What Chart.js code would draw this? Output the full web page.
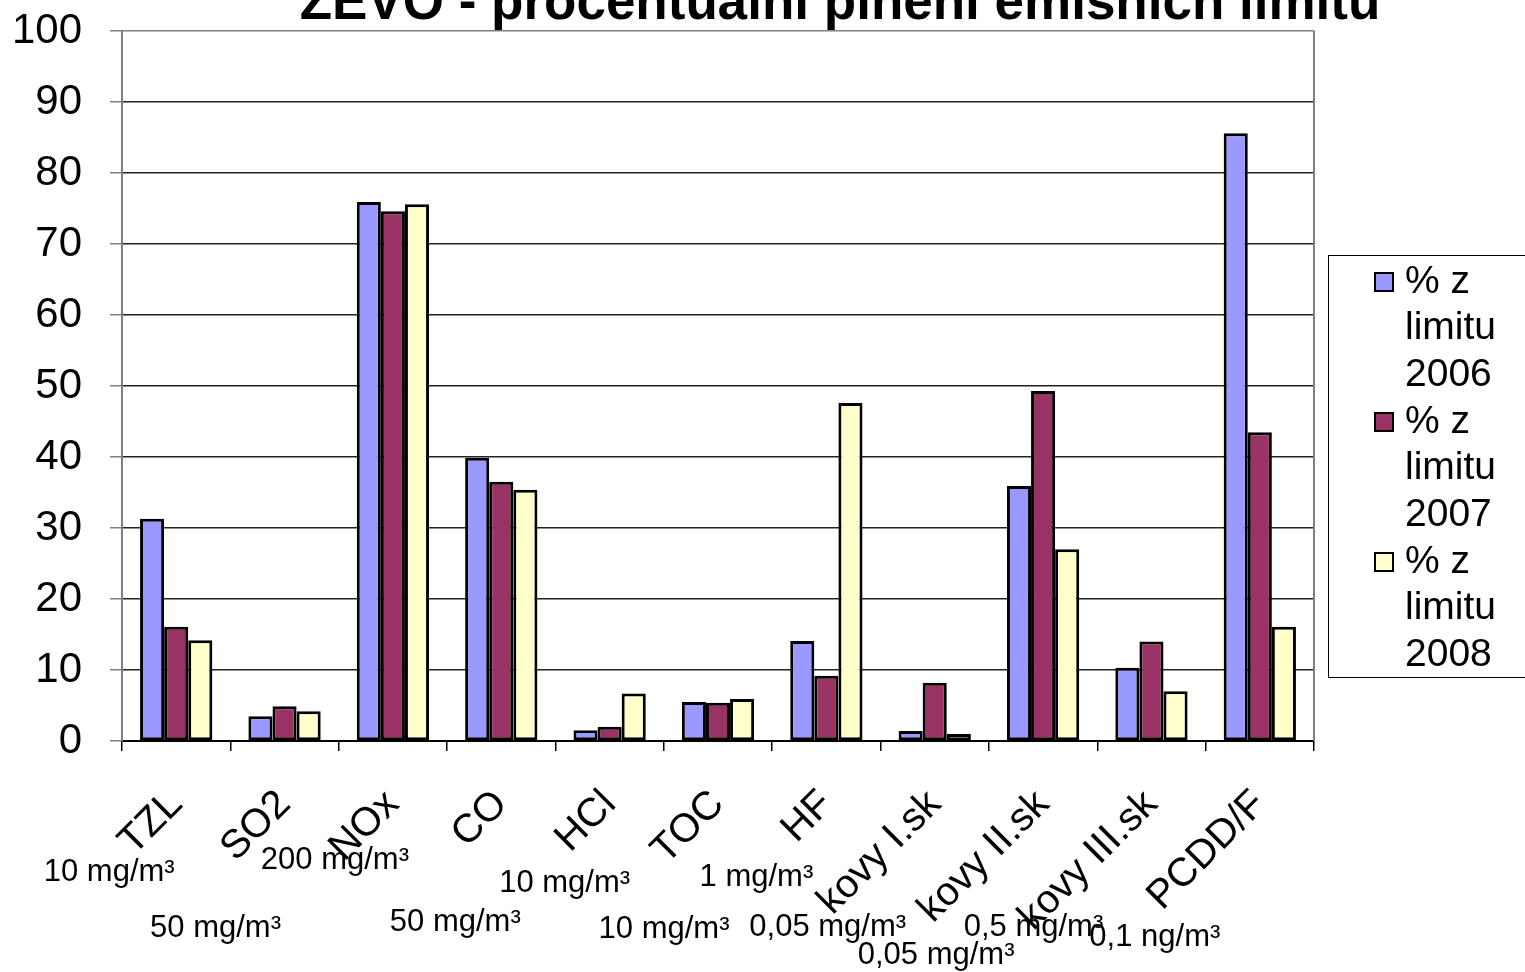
<!DOCTYPE html>
<html>
<head>
<meta charset="utf-8">
<script src="https://cdn.jsdelivr.net/npm/chart.js@4"></script>
<style>
  body { margin: 0; background: #fff; }
  canvas { display: block; }
</style>
</head>
<body>
<canvas id="myChart" width="1525" height="972"></canvas>
<script>
const title = 'ZEVO - procentuální plnění emisních limitů';

const categories = ['TZL', 'SO2', 'NOx', 'CO', 'HCl', 'TOC', 'HF', 'kovy I.sk', 'kovy II.sk', 'kovy III.sk', 'PCDD/F'];

const limits = ['10 mg/m³', '50 mg/m³', '200 mg/m³', '50 mg/m³', '10 mg/m³', '10 mg/m³', '1 mg/m³', '0,05 mg/m³', '0,05 mg/m³', '0,5 mg/m³', '0,1 ng/m³'];

const pct2006 = [31.3, 3.5, 75.9, 39.9, 1.5, 5.5, 14.1, 1.4, 35.9, 10.3, 85.6];
const pct2007 = [16.1, 4.9, 74.6, 36.5, 2.0, 5.4, 9.2, 8.2, 49.3, 14.0, 43.5];
const pct2008 = [14.2, 4.2, 75.6, 35.4, 6.7, 5.9, 47.6, 1.0, 27.0, 7.0, 16.1];

const seriesLabels = ['% z limitu 2006', '% z limitu 2007', '% z limitu 2008'];

const yTicks = [0, 10, 20, 30, 40, 50, 60, 70, 80, 90, 100];

// where the limit text boxes sit (offset from category centre, centre y)
const limitPos = [[-67, 872], [-69, 928], [-58, 860], [-46, 922], [-45, 883], [-54, 929],
                  [-70, 877], [-107, 927], [-107, 955], [-118, 927], [-105, 937]];

const FONT = "'Liberation Sans', Arial, sans-serif";

const colors = ['#9999FF', '#993366', '#FFFFCC'];

const data = {
    labels: categories,
    datasets: [pct2006, pct2007, pct2008].map(function(vals, i) {
        return {
            label: seriesLabels[i],
            data: vals,
            backgroundColor: colors[i],
            borderColor: '#000',
            borderWidth: 3,
            borderSkipped: false,
            categoryPercentage: 0.667,
            barPercentage: 1.0
        };
    })
};

const extras = {
    id: 'extras',
    afterDraw: function(chart) {
        const ctx = chart.ctx;
        const area = chart.chartArea;
        const x = chart.scales.x;
        ctx.save();

        // plot border right side
        ctx.strokeStyle = '#808080';
        ctx.lineWidth = 2;
        ctx.beginPath();
        ctx.moveTo(area.right, area.top);
        ctx.lineTo(area.right, area.bottom);
        ctx.stroke();

        // title (cut off at the top like the original)
        ctx.fillStyle = '#000';
        ctx.font = 'bold 53px ' + FONT;
        ctx.textAlign = 'center';
        ctx.textBaseline = 'alphabetic';
        ctx.fillText(title, 840, 19);

        // limit labels under the categories
        ctx.font = '31px ' + FONT;
        ctx.textBaseline = 'middle';
        limits.forEach(function(t, i) {
            const p = limitPos[i];
            ctx.fillText(t, x.getPixelForValue(i) + p[0], p[1]);
        });

        // legend
        const lx = 1328, ly = 255, lh = 422;
        ctx.strokeStyle = '#000';
        ctx.lineWidth = 1;
        ctx.strokeRect(lx + 0.5, ly + 0.5, 300, lh);
        ctx.font = '39px ' + FONT;
        ctx.textAlign = 'left';
        chart.data.datasets.forEach(function(ds, i) {
            const w = ds.label.split(' ');
            const lines = [w[0] + ' ' + w[1], w[2], w[3]];
            const y0 = 282 + i * 140;
            ctx.fillStyle = ds.backgroundColor;
            ctx.fillRect(1375, y0 - 9, 18, 18);
            ctx.lineWidth = 2;
            ctx.strokeRect(1375, y0 - 9, 18, 18);
            ctx.fillStyle = '#000';
            lines.forEach(function(l, j) {
                ctx.fillText(l, 1405, y0 + j * 46.5);
            });
        });
        ctx.restore();
    }
};

const config = {
    type: 'bar',
    data: data,
    options: {
        responsive: false,
        animation: false,
        layout: { padding: { top: 31, right: 211, left: 0, bottom: 0 } },
        plugins: {
            legend: { display: false },
            title: { display: false },
            tooltip: { enabled: false }
        },
        scales: {
            x: {
                grid: { drawOnChartArea: false, tickLength: 10, color: '#000', lineWidth: 1.5 },
                border: { color: '#000', width: 2 },
                ticks: {
                    color: '#000',
                    font: { family: FONT, size: 40 },
                    minRotation: 45,
                    maxRotation: 45,
                    autoSkip: false,
                    padding: 30
                },
                afterFit: function(s) { s.height = 231; }
            },
            y: {
                min: 0,
                max: 100,
                afterBuildTicks: function(s) {
                    s.ticks = yTicks.map(function(v) { return { value: v }; });
                },
                grid: {
                    color: function(c) { return c.tick && c.tick.value === 100 ? '#808080' : '#222'; },
                    lineWidth: 1.5,
                    tickLength: 12,
                    tickColor: '#808080'
                },
                border: { color: '#808080', width: 2 },
                ticks: {
                    color: '#000',
                    font: { family: FONT, size: 42 },
                    padding: 28
                },
                afterFit: function(s) {
                    s.width = 122;
                    s.paddingTop = 0;
                    s.paddingBottom = 0;
                }
            }
        }
    },
    plugins: [extras]
};

const myChart = new Chart(
    document.getElementById('myChart'),
    config
);
</script>
</body>
</html>
